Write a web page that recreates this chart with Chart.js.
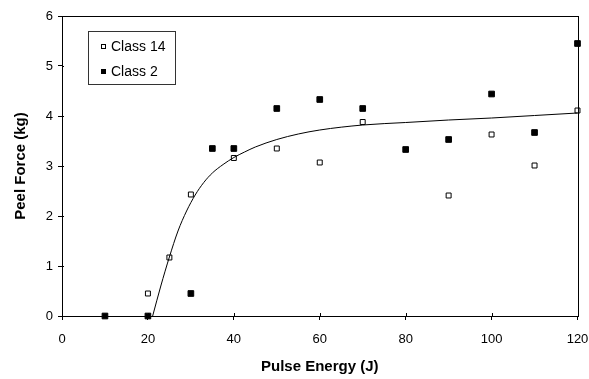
<!DOCTYPE html>
<html>
<head>
<meta charset="utf-8">
<script src="https://cdn.jsdelivr.net/npm/chart.js@4/dist/chart.umd.min.js"></script>
<style>
html,body{margin:0;padding:0;background:#fff;}
#wrap{width:589px;height:379px;}
</style>
</head>
<body>
<div id="wrap"><canvas id="c" width="589" height="379"></canvas></div>
<script>
// Data
const class14X = [20, 25, 30, 40, 50, 60, 70, 90, 100, 110, 120];
const class14Y = [0.45, 1.17, 2.43, 3.16, 3.35, 3.07, 3.88, 2.41, 3.63, 3.01, 4.11];
const class2X = [10, 20, 30, 35, 40, 50, 60, 70, 80, 90, 100, 110, 120];
const class2Y = [0, 0, 0.45, 3.35, 3.35, 4.15, 4.33, 4.15, 3.33, 3.53, 4.44, 3.67, 5.45];
const fitX = [21.1, 23, 25, 27, 29, 31, 33, 35, 37.5, 40, 42.5, 45, 50, 55, 60, 70, 80, 90, 100, 110, 120];
const fitY = [0, 0.6, 1.18, 1.7, 2.1, 2.42, 2.67, 2.86, 3.03, 3.17, 3.28, 3.38, 3.53, 3.64, 3.72, 3.82, 3.87, 3.92, 3.96, 4.01, 4.06];
const seriesLabels = ['Class 14', 'Class 2'];
const xTicks = [0, 20, 40, 60, 80, 100, 120];
const yTicks = [0, 1, 2, 3, 4, 5, 6];

const toPts = (xs, ys) => xs.map((x, i) => ({x: x, y: ys[i]}));
const FONT = "'Liberation Sans', Arial, sans-serif";

const framePlugin = {
  id: 'frame',
  afterDatasetsDraw(chart) {
    const {ctx, chartArea: a, scales} = chart;
    ctx.save();
    ctx.strokeStyle = '#000';
    ctx.lineWidth = 1;
    ctx.strokeRect(Math.round(a.left) + 0.5, Math.round(a.top) + 0.5, Math.round(a.right - a.left), Math.round(a.bottom - a.top));
    // inward tick parts
    ctx.beginPath();
    xTicks.forEach(v => {
      const px = Math.round(scales.x.getPixelForValue(v)) + 0.5;
      ctx.moveTo(px, a.bottom); ctx.lineTo(px, a.bottom - 3);
    });
    yTicks.forEach(v => {
      const py = Math.round(scales.y.getPixelForValue(v)) + 0.5;
      ctx.moveTo(a.left, py); ctx.lineTo(a.left + 2, py);
    });
    ctx.stroke();
    // legend box
    const bx = 88.5, by = 31.5, bw = 87, bh = 53;
    ctx.strokeStyle = '#333';
    ctx.strokeRect(bx, by, bw, bh);
    ctx.font = '14px ' + FONT;
    ctx.fillStyle = '#000';
    ctx.textBaseline = 'middle';
    ctx.textAlign = 'left';
    const rows = [46, 71];
    ctx.lineWidth = 1;
    ctx.strokeStyle = '#000';
    ctx.fillStyle = '#fff';
    ctx.fillRect(101, rows[0] - 2, 5, 5);
    ctx.strokeRect(101.5, rows[0] - 1.5, 4, 4);
    ctx.fillStyle = '#000';
    ctx.fillRect(101, rows[1] - 2, 5, 5);
    ctx.fillText(seriesLabels[0], 111, rows[0] + 1);
    ctx.fillText(seriesLabels[1], 111, rows[1] + 1);
    ctx.restore();
  }
};

new Chart(document.getElementById('c'), {
  type: 'scatter',
  data: {
    datasets: [
      {
        label: 'fit',
        data: toPts(fitX, fitY),
        showLine: true,
        cubicInterpolationMode: 'monotone',
        borderColor: '#000',
        borderWidth: 1,
        pointRadius: 0,
        pointHoverRadius: 0,
        clip: false
      },
      {
        label: seriesLabels[0],
        data: toPts(class14X, class14Y),
        pointStyle: 'rect',
        pointRadius: 3.5,
        backgroundColor: '#fff',
        borderColor: '#000',
        borderWidth: 1,
        clip: false
      },
      {
        label: seriesLabels[1],
        data: toPts(class2X, class2Y),
        pointStyle: 'rect',
        pointRadius: 4,
        backgroundColor: '#000',
        borderColor: '#000',
        borderWidth: 1,
        clip: false
      }
    ]
  },
  options: {
    responsive: false,
    animation: false,
    layout: {padding: {top: 16, right: 0, left: 0, bottom: 0}},
    plugins: {legend: {display: false}, tooltip: {enabled: false}},
    scales: {
      x: {
        type: 'linear', min: 0, max: 120,
        afterBuildTicks: s => { s.ticks = xTicks.map(v => ({value: v})); },
        afterFit: s => { s.height = 63; s.paddingRight = 11.5; },
        grid: {display: true, drawOnChartArea: false, tickLength: 4, color: '#000'},
        border: {display: true, color: '#000', width: 1},
        ticks: {color: '#000', font: {family: FONT, size: 13}, padding: 12, maxRotation: 0},
        title: {display: true, text: 'Pulse Energy (J)', color: '#000', font: {family: FONT, size: 15, weight: 'bold'}, padding: {top: 0, bottom: 3}}
      },
      y: {
        type: 'linear', min: 0, max: 6,
        afterBuildTicks: s => { s.ticks = yTicks.map(v => ({value: v})); },
        afterFit: s => { s.width = 62; },
        grid: {display: true, drawOnChartArea: false, tickLength: 4, color: '#000'},
        border: {display: true, color: '#000', width: 1},
        ticks: {color: '#000', font: {family: FONT, size: 13}, padding: 5},
        title: {display: true, text: 'Peel Force (kg)', color: '#000', font: {family: FONT, size: 15, weight: 'bold'}, padding: {top: 12, bottom: 0}}
      }
    }
  },
  plugins: [framePlugin]
});
</script>
</body>
</html>
